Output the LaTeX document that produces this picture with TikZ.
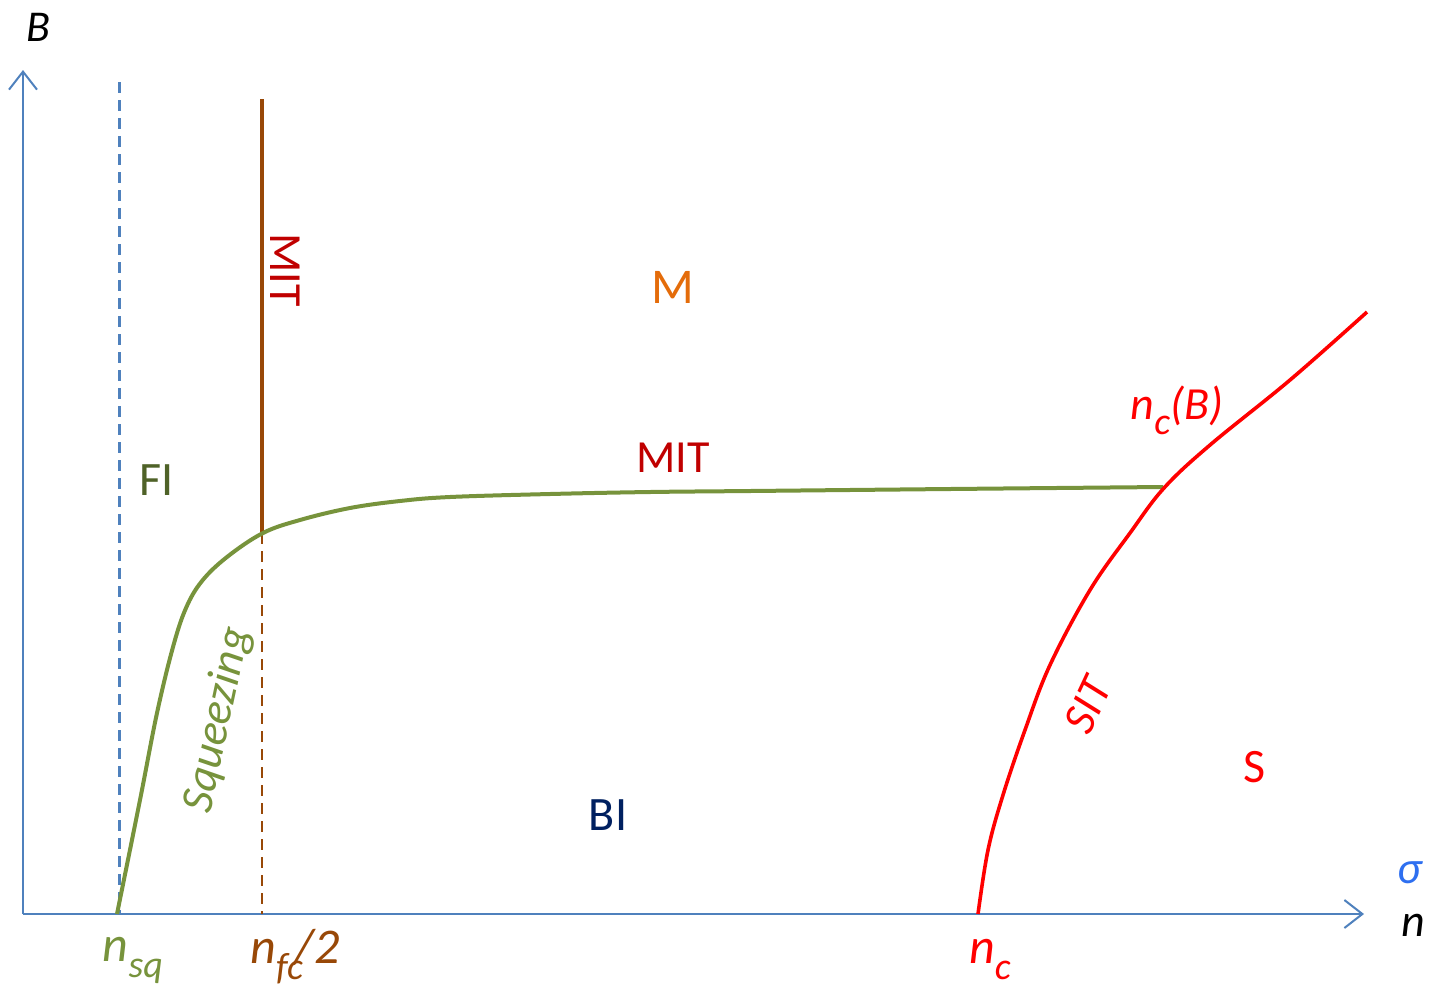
\documentclass[tikz,border=0pt]{standalone}
\usepackage{fontspec}
\setmainfont{Carlito}
\usetikzlibrary{arrows.meta}
\definecolor{axisblue}{HTML}{4F81BD}
\definecolor{sqgreen}{HTML}{77933C}
\definecolor{fcbrown}{HTML}{984807}
\definecolor{mitred}{HTML}{C00000}
\definecolor{morange}{HTML}{E46C0A}
\definecolor{fiolive}{HTML}{4F6228}
\definecolor{binavy}{HTML}{002060}
\definecolor{sigblue}{HTML}{2E6FF0}
\newcommand{\lowsub}[1]{\raisebox{-0.32em}{\fontsize{19}{19}\selectfont\itshape #1}}
\begin{document}
\begin{tikzpicture}[x=0.5pt,y=-0.5pt,
  lbl/.style={inner sep=0pt,font=\fontsize{23}{23}\selectfont},
  ilbl/.style={inner sep=0pt,font=\fontsize{23}{23}\selectfont\itshape},
  tick/.style={inner sep=0pt,font=\fontsize{25}{25}\selectfont\itshape},
  axisline/.style={draw=axisblue,line width=1pt,-{Straight Barb[length=9pt,width=14pt,line width=1pt]}},
  guide/.style={line width=1.5pt,dash pattern=on 5.5pt off 3.5pt},
  curve/.style={line width=2pt,line join=round}]
\useasboundingbox (0,0) rectangle (1434,991);
% axes
\coordinate (O) at (23,914);
\coordinate (ytip) at (23,70);
\coordinate (xtip) at (1364,914);
\draw[axisline] (O) -- (ytip);
\draw[axisline] (O) -- (xtip);
% guide lines
\coordinate (sqtop) at (119,82);
\coordinate (sqbot) at (119,914);
\draw[guide,axisblue] (sqtop) -- (sqbot);
\coordinate (fctop) at (262,99);
\coordinate (fcmid) at (262,533);
\coordinate (fcbot) at (262,914);
\draw[fcbrown,line width=2pt] (fctop) -- (fcmid);
\draw[guide,fcbrown,line width=1.3pt] (fcmid) -- (fcbot);
% green curve
\draw[curve,sqgreen] plot[smooth,tension=0.6] coordinates {(117,914) (140,800) (157,713) (173,647) (186,608) (202,581) (227,557) (263,533) (300,520) (350,508) (400,501) (450,497) (550,494) (650,492) (750,491) (950,489) (1163,487)};
% red curve
\draw[curve,red,line width=1.8pt] plot[smooth,tension=0.6] coordinates {(978,914) (988,850) (1003,795) (1025,730) (1050,665) (1090,590) (1130,533) (1164,488) (1210,445) (1290,380) (1367,312)};
% labels
\node[ilbl,black,font=\fontsize{22}{22}\selectfont\itshape] (Blab) at (38,27) {B};
\node[ilbl,sigblue] (sig) at (1410,873) {σ};
\node[ilbl,black] (nlab) at (1413,925) {n};
\node[lbl,fiolive,font=\fontsize{24}{24}\selectfont] (FI) at (157,480) {FI};
\node[lbl,morange,font=\fontsize{25}{25}\selectfont] (M) at (673,287) {M};
\node[lbl,mitred] (MITh) at (673,458) {MIT};
\node[lbl,mitred,rotate=-90] (MITv) at (285,270) {MIT};
\node[ilbl,sqgreen,rotate=78] (sq) at (218,720) {Squeezing};
\node[lbl,binavy,font=\fontsize{24}{24}\selectfont] (BI) at (608,815) {BI};
\node[ilbl,red,rotate=65] (SIT) at (1088,705) {SIT};
\node[lbl,red,font=\fontsize{24}{24}\selectfont] (S) at (1255,767) {S};
\node[ilbl,red] (ncB) at (1177,410) {n\lowsub{c}(B)};
\node[tick,sqgreen] (nsq) at (133,960) {n\lowsub{sq}};
\node[tick,fcbrown] (nfc) at (295,957) {n\lowsub{fc}\kern-4pt/2};
\node[tick,red] (nc) at (990,960) {n\lowsub{c}};
\end{tikzpicture}
\end{document}
